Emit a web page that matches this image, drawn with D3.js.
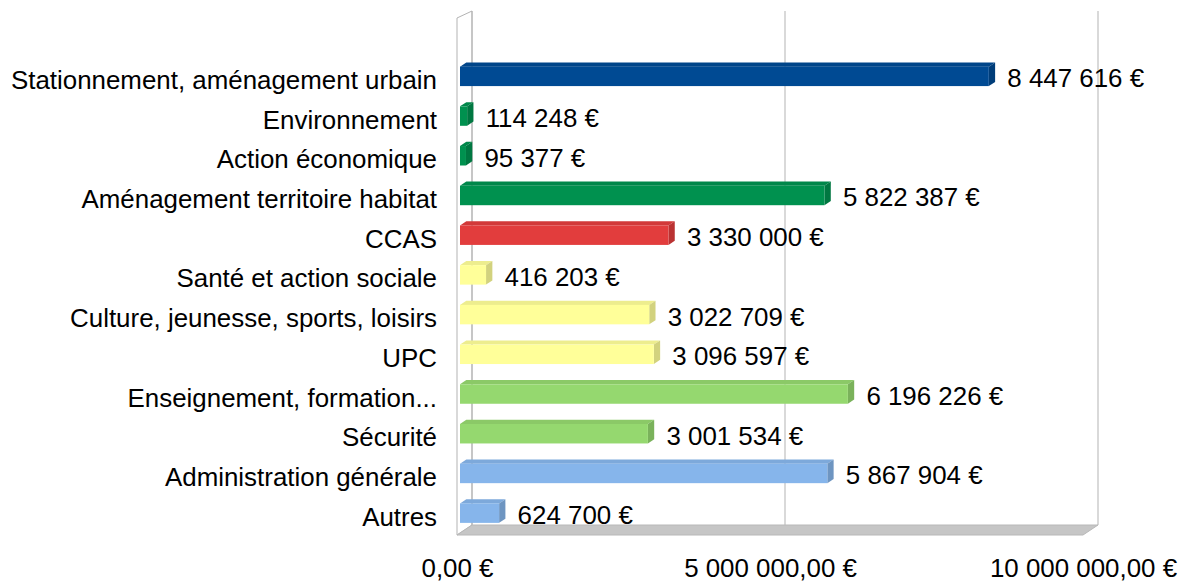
<!DOCTYPE html>
<html>
<head>
<meta charset="utf-8">
<script src="https://cdn.jsdelivr.net/npm/d3@7"></script>
<style>
  html, body { margin: 0; padding: 0; background: #fff; }
  svg { display: block; font-family: "Liberation Sans", Arial, sans-serif; }
</style>
</head>
<body>
<div id="chart"></div>
<script>
// Chart data
const categories = [
  'Stationnement, aménagement urbain',
  'Environnement',
  'Action économique',
  'Aménagement territoire habitat',
  'CCAS',
  'Santé et action sociale',
  'Culture, jeunesse, sports, loisirs',
  'UPC',
  'Enseignement, formation...',
  'Sécurité',
  'Administration générale',
  'Autres'
];
const values = [8447616, 114248, 95377, 5822387, 3330000, 416203, 3022709, 3096597, 6196226, 3001534, 5867904, 624700];
const barColors = ['#004a93', '#00914f', '#00914f', '#00914f', '#e23d3d', '#ffff99', '#ffff99', '#ffff99', '#95d86f', '#95d86f', '#86b5eb', '#86b5eb'];
const tickValues = [0, 5000000, 10000000];

(function () {
  const W = 1181, H = 584;
  const fs = 25.9;

  // 3D box: front plane and depth offset
  const left = 457, right = 1083, top = 18, bottom = 535;
  const depthX = 15, depthY = -10;
  const wallTop = 11;

  const locale = d3.formatLocale({ decimal: ',', thousands: ' ', grouping: [3], currency: ['', ' €'] });
  const fmtTick = v => locale.format(',.2f')(v) + ' €';
  const fmtVal = v => locale.format(',.0f')(v) + ' €';

  const svg = d3.select('#chart').append('svg')
    .attr('width', W)
    .attr('height', H);

  const xFront = d3.scaleLinear().domain([0, 10000000]).range([left, right]);
  const xBack = d3.scaleLinear().domain([0, 10000000]).range([left + depthX, right + depthX]);

  // bars sit a bit behind the front plane
  const t0 = 0.2, t1 = 0.62;
  const xBar = d => xFront(d) + depthX * t0;
  const bx = depthX * (t1 - t0), by = depthY * (t1 - t0);

  const y = d3.scaleBand().domain(categories).range([56.5, 533]).paddingInner(0.51).paddingOuter(0.255);

  const frame = svg.append('g').attr('class', 'frame');

  // back wall grid lines
  frame.selectAll('line.grid')
    .data(tickValues)
    .enter().append('line')
    .attr('class', 'grid')
    .attr('x1', d => xBack(d)).attr('x2', d => xBack(d))
    .attr('y1', wallTop).attr('y2', bottom + depthY)
    .attr('stroke', '#b3b3b3').attr('stroke-width', 1);

  // left wall
  frame.append('path')
    .attr('d', `M${left},${top}L${left + depthX},${wallTop}L${left + depthX},${bottom + depthY}L${left},${bottom}Z`)
    .attr('fill', 'none')
    .attr('stroke', '#b3b3b3');

  // floor
  frame.append('path')
    .attr('d', `M${left},${bottom}L${left + depthX},${bottom + depthY}L${right + depthX},${bottom + depthY}L${right},${bottom}Z`)
    .attr('fill', '#c6c6c6')
    .attr('stroke', '#b8b8b8');

  const rows = categories.map((c, i) => ({ cat: c, value: values[i], color: barColors[i] }));

  const bars = svg.append('g').attr('class', 'bars')
    .selectAll('g.bar')
    .data(rows)
    .enter().append('g')
    .attr('class', 'bar');

  // top face
  bars.append('path')
    .attr('d', d => {
      const x0 = xBar(0), x1 = xBar(d.value), y0 = y(d.cat);
      return `M${x0},${y0}L${x0 + bx},${y0 + by}L${x1 + bx},${y0 + by}L${x1},${y0}Z`;
    })
    .attr('fill', d => d3.color(d.color).darker(0.2));

  // side face
  bars.append('path')
    .attr('d', d => {
      const x1 = xBar(d.value), y0 = y(d.cat), y1 = y0 + y.bandwidth();
      return `M${x1},${y0}L${x1 + bx},${y0 + by}L${x1 + bx},${y1 + by}L${x1},${y1}Z`;
    })
    .attr('fill', d => d3.color(d.color).darker(0.55));

  // front face
  bars.append('rect')
    .attr('x', xBar(0))
    .attr('y', d => y(d.cat))
    .attr('width', d => xBar(d.value) - xBar(0))
    .attr('height', y.bandwidth())
    .attr('fill', d => d.color);

  // value labels
  bars.append('text')
    .attr('x', d => xBar(d.value) + 18.5)
    .attr('y', d => y(d.cat) + y.bandwidth() / 2 + 11)
    .attr('font-size', fs)
    .attr('fill', '#000')
    .text(d => fmtVal(d.value));

  // category labels
  svg.append('g').attr('class', 'cats')
    .selectAll('text')
    .data(categories)
    .enter().append('text')
    .attr('x', 437)
    .attr('y', d => y(d) + y.bandwidth() / 2 + 12.5)
    .attr('text-anchor', 'end')
    .attr('font-size', fs)
    .attr('fill', '#000')
    .text(d => d);

  // x axis labels
  const axis = svg.append('g')
    .attr('transform', `translate(0, 556)`)
    .call(d3.axisBottom(xFront).tickValues(tickValues).tickSize(0).tickFormat(fmtTick));
  axis.select('.domain').remove();
  axis.selectAll('text')
    .attr('font-size', fs)
    .attr('font-family', '"Liberation Sans", Arial, sans-serif')
    .attr('fill', '#000');
})();
</script>
</body>
</html>
